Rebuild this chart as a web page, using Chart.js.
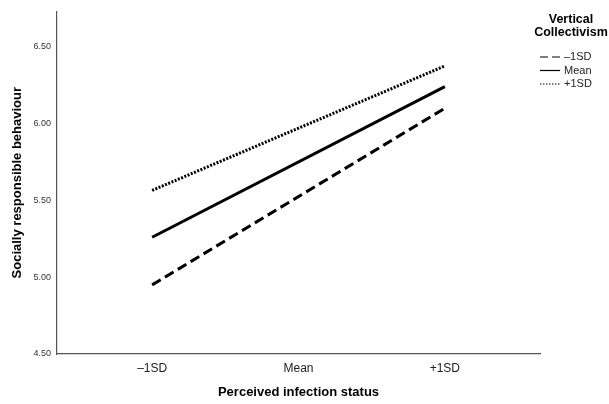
<!DOCTYPE html>
<html>
<head>
<meta charset="utf-8">
<script src="https://cdn.jsdelivr.net/npm/chart.js@4/dist/chart.umd.min.js"></script>
<style>
  html, body { margin: 0; padding: 0; background: #fff; }
  #wrap { width: 609px; height: 404px; }
</style>
</head>
<body>
<div id="wrap"><canvas id="chart"></canvas></div>
<script>
// Moderator levels on the x axis
const xLabels = ['\u20131SD', 'Mean', '+1SD'];
const xLevels = [-1, 0, 1];
const lineLevels = [-1, 1];

// Simple slopes, one line per level of Vertical Collectivism
const seriesNames = ['\u20131SD', 'Mean', '+1SD'];
const lowVC = [4.95, 6.10];
const meanVC = [5.26, 6.24];
const highVC = [5.565, 6.375];

const yTicks = [4.5, 5.0, 5.5, 6.0, 6.5];
const legendTitle = ['Vertical', 'Collectivism'];

const toPoints = vals => vals.map((v, i) => ({ x: lineLevels[i], y: v }));

// Legend drawn by hand so it can sit to the right of the plot like the SPSS output
const sideLegend = {
    id: 'sideLegend',
    afterDraw(chart) {
        const ctx = chart.ctx;
        ctx.save();
        ctx.fillStyle = '#000';
        ctx.textAlign = 'center';
        ctx.textBaseline = 'middle';
        ctx.font = 'bold 12.5px "Liberation Sans", Arial, sans-serif';
        legendTitle.forEach((t, i) => ctx.fillText(t, 571, 20 + i * 13));

        ctx.font = '11px "Liberation Sans", Arial, sans-serif';
        ctx.textAlign = 'left';
        const dashes = [[8, 4], [], [1.5, 1.5]];
        chart.data.datasets.forEach((ds, i) => {
            const y = 57 + i * 13.5;
            ctx.beginPath();
            ctx.setLineDash(dashes[i]);
            ctx.lineWidth = 1.2;
            ctx.strokeStyle = '#000';
            ctx.moveTo(540, y);
            ctx.lineTo(560, y);
            ctx.stroke();
            ctx.fillStyle = '#222';
            ctx.fillText(ds.label, 564, y);
        });
        ctx.restore();
    }
};

new Chart(document.getElementById('chart'), {
    type: 'line',
    data: {
        datasets: [
            { label: seriesNames[0], data: toPoints(lowVC), borderDash: [10, 5] },
            { label: seriesNames[1], data: toPoints(meanVC) },
            { label: seriesNames[2], data: toPoints(highVC), borderDash: [2, 1.5] }
        ].map(d => ({
            ...d,
            borderColor: '#000',
            borderWidth: 3,
            pointRadius: 0,
            fill: false,
            borderCapStyle: 'butt'
        }))
    },
    options: {
        responsive: true,
        maintainAspectRatio: false,
        animation: false,
        layout: { padding: { top: 8, right: 69, bottom: 0, left: 0 } },
        plugins: {
            legend: { display: false },
            tooltip: { enabled: false }
        },
        scales: {
            x: {
                type: 'linear',
                min: -1.65,
                max: 1.65,
                afterBuildTicks: s => { s.ticks = xLevels.map(v => ({ value: v })); },
                afterFit: s => { s.height = 50; },
                grid: { display: false, drawTicks: false },
                border: { color: '#555', width: 1.2 },
                ticks: {
                    padding: 7,
                    color: '#222',
                    font: { family: '"Liberation Sans", Arial, sans-serif', size: 12 },
                    callback: v => xLabels[xLevels.indexOf(v)]
                },
                title: {
                    display: true,
                    text: 'Perceived infection status',
                    color: '#000',
                    padding: { top: 0, bottom: 4 },
                    font: { family: '"Liberation Sans", Arial, sans-serif', size: 13, weight: 'bold' }
                }
            },
            y: {
                min: 4.5,
                max: 6.73,
                afterBuildTicks: s => { s.ticks = yTicks.map(v => ({ value: v })); },
                afterFit: s => { s.width = 57; },
                grid: { display: false, drawTicks: false },
                border: { color: '#555', width: 1.2 },
                ticks: {
                    padding: 6,
                    color: '#333',
                    font: { family: '"Liberation Sans", Arial, sans-serif', size: 9 },
                    callback: v => v.toFixed(2)
                },
                title: {
                    display: true,
                    text: 'Socially responsible behaviour',
                    color: '#000',
                    padding: { top: 10, bottom: 0 },
                    font: { family: '"Liberation Sans", Arial, sans-serif', size: 13, weight: 'bold' }
                }
            }
        }
    },
    plugins: [sideLegend]
});
</script>
</body>
</html>
